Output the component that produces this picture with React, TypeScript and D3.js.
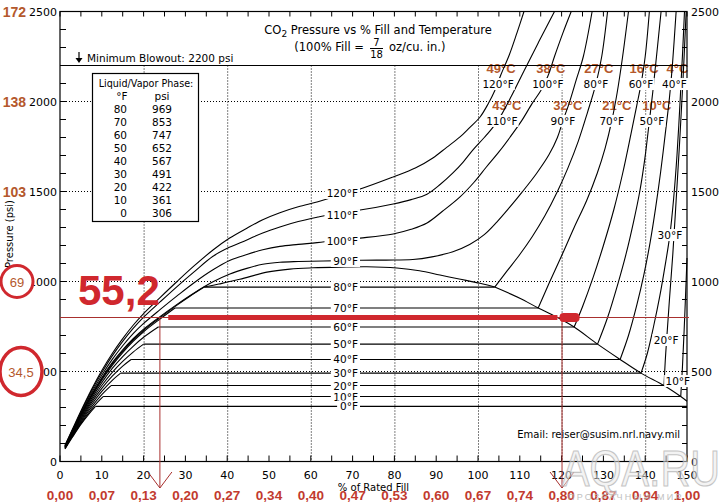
import * as d3 from 'd3'

type Pt = [number, number]

// axes
const fillTicks = d3.range(0, 151, 10)
const fillMinor = d3.range(0, 151, 5)
const psiTicks = [0, 500, 1000, 1500, 2000, 2500]
const psiMinor = d3.range(0, 2501, 100)
const gridFill = [20, 40, 60, 80, 100, 120, 140]
const gridPsi = [500, 1000, 1500, 2000]
const barLabels = ['', '34,5', '69', '103', '138', '172']
const densityLabels = ['0,00', '0,07', '0,13', '0,20', '0,27', '0,34', '0,40', '0,47', '0,53', '0,60', '0,67', '0,74', '0,80', '0,87', '0,94', '1,00']
const blowoutPsi = 2200

// liquid / vapor phase table
const tableTemps = [80, 70, 60, 50, 40, 30, 20, 10, 0]
const tablePsi = [969, 853, 747, 652, 567, 491, 422, 361, 306]
const satVaporFill = [34.5, 27.5, 23.5, 20, 17, 14.5, 12.2, 10.3, 8.5]
const satLiquidFill = [104, 114.4, 123, 128.6, 134, 139, 144.5, 148.5, 150]

// vapor side of each isotherm (% fill, psi)
const vapor80: Pt[] = [[1.2, 84], [3, 166], [5, 258], [7.5, 364], [10, 459], [12.5, 542], [15, 613], [17.5, 675], [20, 729], [24, 801], [28, 869], [31, 917], [34.5, 969]]
const vapor70: Pt[] = [[1.2, 82], [3, 164], [5, 253], [7.5, 358], [10, 452], [12.5, 534], [15, 605], [17.5, 667], [20, 721], [24, 793], [27.5, 853]]
const vapor60: Pt[] = [[1.2, 80], [3, 160], [5, 247], [7.5, 348], [10, 438], [12.5, 517], [15, 583], [17.5, 640], [20, 690], [23.5, 747]]
const vapor50: Pt[] = [[1.2, 79], [3, 156], [5, 240], [7.5, 337], [10, 422], [12.5, 495], [15, 556], [17.5, 608], [20, 652]]
const vapor40: Pt[] = [[1.2, 77], [3, 152], [5, 233], [7.5, 326], [10, 406], [12.5, 474], [15, 530], [17, 567]]
const vapor30: Pt[] = [[1.2, 75], [3, 148], [5, 226], [7.5, 314], [10, 389], [12.5, 451], [14.5, 491]]
const vapor20: Pt[] = [[1.2, 74], [3, 144], [5, 219], [7.5, 302], [10, 372], [12.2, 422]]
const vapor10: Pt[] = [[1.2, 72], [3, 140], [5, 212], [7.5, 290], [9, 330], [10.3, 361]]
const vapor0: Pt[] = [[1.2, 70], [3, 136], [5, 206], [7, 266], [8.5, 306]]

// compressed liquid side
const liquid80: Pt[] = [[104, 969], [107, 1060], [110, 1150], [113, 1250], [116, 1365], [119, 1500], [121.5, 1630], [124, 1780], [126.2, 1940], [128.2, 2097], [129.6, 2250], [131, 2500]]
const liquid70: Pt[] = [[114.4, 853], [117, 990], [120.3, 1158], [123, 1300], [126, 1450], [128.5, 1600], [130.4, 1740], [132, 1892], [133.3, 2050], [134.6, 2250], [136, 2500]]
const liquid60: Pt[] = [[123, 747], [125, 860], [127.5, 1020], [130, 1200], [132.5, 1400], [134.6, 1600], [136.6, 1820], [138, 1980], [139, 2097], [140, 2250], [141, 2500]]
const liquid50: Pt[] = [[128.6, 652], [131, 800], [133.5, 990], [135.5, 1160], [137.2, 1330], [138.7, 1500], [139.9, 1680], [141, 1892], [141.8, 2050], [142.7, 2250], [143.8, 2500]]
const liquid40: Pt[] = [[134, 567], [136, 700], [138, 870], [139.7, 1040], [141.2, 1220], [142.5, 1410], [143.7, 1610], [144.8, 1820], [145.8, 2020], [146.5, 2200], [147.4, 2500]]
const liquid30: Pt[] = [[139, 491], [140.5, 600], [142, 750], [143.5, 920], [144.7, 1080], [145.9, 1258], [146.8, 1460], [147.6, 1700], [148.3, 1980], [148.9, 2250], [149.4, 2500]]
const liquid20: Pt[] = [[144.5, 422], [144.8, 560], [145.2, 700], [145.8, 900], [146.6, 1150], [147.4, 1450], [148.2, 1760], [149, 2100], [149.8, 2500]]
const liquid10: Pt[] = [[148.5, 361], [148.9, 520], [149.3, 720], [149.7, 950], [150, 1130]]

// supercritical isotherms
const curve90: Pt[] = [[1.2, 85], [3, 169], [5, 262], [7.5, 369], [10, 465], [12.5, 549], [15, 620], [17.5, 682], [20, 735], [24, 806], [28, 873], [32, 935], [36.6, 998], [40.5, 1040], [44.7, 1073], [48.5, 1096], [52.6, 1107], [57, 1111], [63, 1114], [72, 1118], [78, 1119], [84.4, 1122], [89, 1137], [94, 1165], [98, 1205], [101.5, 1260], [104.5, 1330], [107.5, 1410], [110.5, 1495], [114, 1600], [117, 1705], [119, 1800], [120.3, 1892], [121.8, 1990], [123.5, 2120], [125.2, 2250], [127.3, 2500]]
const curve100: Pt[] = [[1.2, 87], [3, 173], [5, 268], [7.5, 379], [10, 479], [12.5, 567], [15, 643], [17.5, 710], [20, 767], [24, 845], [28, 920], [32, 992], [36.6, 1065], [40.7, 1118], [44.7, 1150], [48.5, 1176], [52.6, 1195], [57, 1206], [61.5, 1216], [66, 1228], [71.8, 1241], [79.7, 1264], [84, 1290], [87.8, 1325], [91.5, 1390], [95.7, 1470], [99, 1550], [102, 1636], [105, 1720], [107.7, 1803], [110.5, 1895], [113, 1991], [115, 2060], [116.7, 2140], [118.3, 2250], [120.3, 2380], [122.3, 2500]]
const curve110: Pt[] = [[1.2, 88], [3, 176], [5, 274], [7.5, 390], [10, 494], [12.5, 587], [15, 667], [17.5, 739], [20, 802], [24, 888], [28, 972], [32, 1052], [36.6, 1140], [40.5, 1190], [44.7, 1231], [48.5, 1270], [52.6, 1303], [57, 1333], [61.7, 1358], [66, 1378], [71.8, 1397], [79.7, 1431], [84, 1455], [87.8, 1485], [91, 1540], [94, 1603], [96.5, 1665], [98.8, 1731], [101.5, 1800], [103.6, 1858], [105.7, 1930], [108, 2030], [111, 2170], [114.5, 2330], [118.3, 2500]]
const curve120: Pt[] = [[1.2, 90], [3, 180], [5, 280], [7.5, 398], [10, 505], [12.5, 600], [15, 683], [17.5, 757], [20, 822], [24, 912], [28, 1000], [32, 1085], [36.6, 1175], [40.5, 1240], [44.7, 1296], [48.5, 1343], [52.6, 1382], [57, 1415], [61.7, 1443], [66, 1475], [71.8, 1514], [79.7, 1581], [85, 1630], [89.2, 1686], [92.5, 1745], [95.7, 1803], [98, 1855], [100.5, 1914], [102.5, 1990], [104, 2060], [105.5, 2150], [107.5, 2260], [109.3, 2380], [111, 2500]]

// saturation dome
const domeTop: Pt[] = [[34.5, 969], [38, 986], [43, 1012], [49.5, 1052], [55, 1069], [60.5, 1076], [67, 1080], [73.4, 1082], [80.6, 1075], [86, 1060], [90.9, 1036], [95.5, 1014], [100.5, 990], [104, 969]]
const domeRight: Pt[] = [[104, 969], [110, 907], [114.4, 853], [118.6, 805], [123, 747], [128.6, 652], [134, 567], [139, 491], [144.5, 422], [148.5, 361], [150, 335]]

// labels: supercritical temps on the plateau, then the steep liquid lines
const superTemps = [90, 100, 110, 120]
const superLabelPsi = [1114, 1225, 1369, 1492]
const steepTemps = [120, 110, 100, 90, 80, 70, 60, 50, 40, 30, 20, 10]
const steepCelsius = ['49', '43', '38', '32', '27', '21', '16', '10', '4', '', '', '']
const steepFill = [104.8, 105.7, 116.7, 120.3, 128.2, 132, 139, 141.6, 147, 145.9, 145, 147.8]
const steepPsi = [2097, 1892, 2097, 1892, 2097, 1892, 2097, 1892, 2097, 1258, 675, 447]

// red annotation
const redPsi = 800
const redFills = [23.9, 120.1]
const redBar = '55,2'

const vapors = [vapor80, vapor70, vapor60, vapor50, vapor40, vapor30, vapor20, vapor10, vapor0]
const liquids = [liquid80, liquid70, liquid60, liquid50, liquid40, liquid30, liquid20, liquid10]
const supers = [curve90, curve100, curve110, curve120]

const FONT = 'DejaVu Sans, Verdana, sans-serif'
const SANS = 'Liberation Sans, Arial, sans-serif'
const RED = '#d0282e'
const BROWN = '#b4582c'

const textW = (s: string, size: number) => s.length * size * 0.6

export default function App() {
  const x = d3.scaleLinear().domain([0, 150]).range([60, 687])
  const y = d3.scaleLinear().domain([0, 2500]).range([461.5, 11.5])
  const line = d3
    .line<Pt>()
    .x((d) => x(d[0]))
    .y((d) => y(d[1]))
    .curve(d3.curveCatmullRom.alpha(0.5))

  const x0 = x(0)
  const x1 = x(150)
  const yTop = y(2500)
  const yBot = y(0)

  return (
    <svg
      width={728}
      height={504}
      style={{ position: 'absolute', left: 0, top: 0, background: '#fff' }}
      fontFamily={FONT}
    >
      <rect width={728} height={504} fill="#fff" />

      {/* dotted grid */}
      <g stroke="#000" strokeWidth={1} strokeDasharray="1,2">
        {gridFill.map((f) => (
          <line key={'gv' + f} x1={x(f) + 0.5} x2={x(f) + 0.5} y1={y(blowoutPsi)} y2={yBot} />
        ))}
        {gridPsi.map((p) => (
          <line key={'gh' + p} x1={x0} x2={x1} y1={y(p)} y2={y(p)} />
        ))}
      </g>

      {/* Celsius overlays, under the curves */}
      <g fontFamily={SANS} fontWeight="bold" fontSize={13} fill={BROWN} textAnchor="middle">
        {steepTemps.map((t, i) =>
          steepCelsius[i] ? (
            <text key={'c' + t} x={x(steepFill[i]) + (i % 2 ? 5 : 3)} y={y(steepPsi[i]) - 11}>
              {steepCelsius[i]}°C
            </text>
          ) : null
        )}
      </g>

      {/* isotherms */}
      <g fill="none" stroke="#000" strokeWidth={1.1}>
        {vapors.map((v, i) => (
          <path key={'v' + i} d={line(v)!} />
        ))}
        {tablePsi.map((p, i) => (
          <line key={'h' + i} x1={x(satVaporFill[i])} x2={x(satLiquidFill[i])} y1={y(p)} y2={y(p)} />
        ))}
        {liquids.map((v, i) => (
          <path key={'l' + i} d={line(v)!} />
        ))}
        {supers.map((v, i) => (
          <path key={'s' + i} d={line(v)!} />
        ))}
        <path d={line(domeTop)!} />
        <path d={line(domeRight)!} />
      </g>

      {/* minimum blowout */}
      <line x1={x0} x2={x1} y1={y(blowoutPsi)} y2={y(blowoutPsi)} stroke="#000" strokeWidth={1.2} />
      <line x1={79} x2={79} y1={52} y2={60} stroke="#000" strokeWidth={1.2} />
      <path d="M75.5,58 L82.5,58 L79,63 Z" fill="#000" />
      <text x={87} y={62} fontSize={10.5}>
        Minimum Blowout: {blowoutPsi} psi
      </text>

      {/* frame and ticks */}
      <rect x={x0} y={yTop} width={x1 - x0} height={yBot - yTop} fill="none" stroke="#000" strokeWidth={1.2} />
      <g stroke="#000" strokeWidth={1}>
        {psiMinor.map((p) => (
          <g key={'pt' + p}>
            <line x1={x0} x2={x0 + 6} y1={y(p)} y2={y(p)} />
            <line x1={x1 - 5} x2={x1} y1={y(p)} y2={y(p)} />
          </g>
        ))}
        {fillMinor.map((f) => (
          <g key={'ft' + f}>
            <line x1={x(f)} x2={x(f)} y1={yBot} y2={yBot - 6} />
            <line x1={x(f)} x2={x(f)} y1={yTop} y2={yTop + 5} />
          </g>
        ))}
      </g>
      <g fontSize={11} fill="#000">
        {psiTicks.map((p) => (
          <text key={'pl' + p} x={x0 - 3} y={y(p) + 4} textAnchor="end">
            {p}
          </text>
        ))}
        {psiTicks.map((p) => (
          <text key={'pr' + p} x={x1 + 4} y={y(p) + 4} textAnchor="start">
            {p}
          </text>
        ))}
        {fillTicks.map((f) => (
          <text key={'fl' + f} x={x(f)} y={479} textAnchor="middle">
            {f}
          </text>
        ))}
      </g>
      <text x={x(75)} y={491} fontSize={10} textAnchor="middle">
        % of Rated Fill
      </text>
      <text
        transform="translate(13,234) rotate(-90)"
        fontSize={10}
        textAnchor="middle"
        textLength={68}
        lengthAdjust="spacingAndGlyphs"
      >
        Pressure (psi)
      </text>

      {/* labels along the flat two-phase lines */}
      <g fontSize={10.5} textAnchor="end">
        {tableTemps.map((t, i) => (
          <g key={'ml' + t}>
            <rect x={358 - textW(t + '°F', 10.5) - 2} y={y(tablePsi[i]) - 6} width={textW(t + '°F', 10.5) + 4} height={12} fill="#fff" />
            <text x={358} y={y(tablePsi[i]) + 4}>
              {t}°F
            </text>
          </g>
        ))}
        {superTemps.map((t, i) => (
          <g key={'sl' + t}>
            <rect x={358 - textW(t + '°F', 10.5) - 2} y={y(superLabelPsi[i]) - 6} width={textW(t + '°F', 10.5) + 4} height={12} fill="#fff" />
            <text x={358} y={y(superLabelPsi[i]) + 4}>
              {t}°F
            </text>
          </g>
        ))}
      </g>

      {/* labels on the steep liquid lines */}
      <g fontSize={10.5} textAnchor="middle">
        {steepTemps.map((t, i) => {
          const w = textW(t + '°F', 10.5)
          const cx = x(steepFill[i])
          const cy = y(steepPsi[i])
          return (
            <g key={'st' + t}>
              <rect x={cx - w / 2 - 1} y={cy - 6} width={w + 2} height={12} fill="#fff" />
              <text x={cx} y={cy + 4}>
                {t}°F
              </text>
            </g>
          )
        })}
      </g>

      {/* phase table */}
      <rect x={92.5} y={73.5} width={106} height={148} fill="#fff" stroke="#000" strokeWidth={1.2} />
      <text x={146} y={87} fontSize={9.6} textAnchor="middle">
        Liquid/Vapor Phase:
      </text>
      <text x={122} y={100} fontSize={10.5} textAnchor="middle">
        °F
      </text>
      <text x={162} y={100} fontSize={10.5} textAnchor="middle">
        psi
      </text>
      {tableTemps.map((t, i) => (
        <g key={'tr' + t} fontSize={10.5}>
          <text x={127} y={113 + i * 13} textAnchor="end">
            {t}
          </text>
          <text x={162} y={113 + i * 13} textAnchor="middle">
            {tablePsi[i]}
          </text>
        </g>
      ))}

      {/* title */}
      <text x={378} y={34} fontSize={11.5} textAnchor="middle">
        CO
        <tspan dy={3} fontSize={9}>
          2
        </tspan>
        <tspan dy={-3}> Pressure vs % Fill and Temperature</tspan>
      </text>
      <text x={364} y={51} fontSize={11.5} textAnchor="end">
        (100% Fill =
      </text>
      <text x={376.5} y={46} fontSize={10} textAnchor="middle">
        7
      </text>
      <line x1={370} x2={383} y1={48.5} y2={48.5} stroke="#000" strokeWidth={1} />
      <text x={376.5} y={57.5} fontSize={10} textAnchor="middle">
        18
      </text>
      <text x={389} y={51} fontSize={11.5}>
        oz/cu. in.)
      </text>

      <text x={680} y={438} fontSize={10} textAnchor="end">
        Email: reiser@susim.nrl.navy.mil
      </text>

      {/* red annotation */}
      <line x1={x0} x2={x1 + 2} y1={y(redPsi)} y2={y(redPsi)} stroke="#a8302e" strokeWidth={1} />
      {redFills.map((f) => (
        <g key={'rv' + f} stroke="#a8302e" strokeWidth={1} fill="none">
          <line x1={x(f)} x2={x(f)} y1={y(redPsi)} y2={488} />
          <path d={`M${x(f) - 12},472 L${x(f)},488 L${x(f) + 12},472`} />
        </g>
      ))}
      <line x1={x(25.9)} x2={x(119)} y1={y(redPsi)} y2={y(redPsi)} stroke={RED} strokeWidth={5} />
      <rect x={x(119.5)} y={y(redPsi) - 4.5} width={x(124.3) - x(119.5)} height={9} rx={4} fill={RED} />
      <text x={78} y={305} fontFamily={SANS} fontWeight="bold" fontSize={42} fill={RED}>
        {redBar}
      </text>

      <g fontFamily={SANS} fontWeight="bold">
        <ellipse cx={17} cy={y(1000)} rx={16} ry={16} fill="#fff" stroke={RED} strokeWidth={3} />
        <ellipse cx={21} cy={y(500)} rx={21} ry={24} fill="#fff" stroke={RED} strokeWidth={3.5} />
        {psiTicks.map((p, i) =>
          barLabels[i] ? (
            <text
              key={'bl' + p}
              x={p >= 1500 ? 26 : p === 1000 ? 17 : 21}
              y={y(p) + 5}
              fontSize={p >= 1500 ? 14 : 13}
              fontWeight={p >= 1500 ? 'bold' : 'normal'}
              textAnchor={p >= 1500 ? 'end' : 'middle'}
              fill={BROWN}
            >
              {barLabels[i]}
            </text>
          ) : null
        )}
        {fillTicks.map((f, i) => (
          <text key={'dl' + f} x={x(f)} y={500} fontSize={13.5} fill="#c23a2e" textAnchor="middle">
            {densityLabels[i]}
          </text>
        ))}
      </g>

      {/* watermark */}
      <g opacity={0.85}>
        <text
          x={562}
          y={486}
          fontFamily={SANS}
          fontSize={50}
          textLength={158}
          lengthAdjust="spacingAndGlyphs"
          fill="#eaeaea"
          fillOpacity={0.6}
          stroke="#bcbcbc"
          strokeWidth={1.2}
        >
          AQA.RU
        </text>
        <text x={568} y={500} fontFamily={SANS} fontSize={9} letterSpacing={2.2} fill="#b5b5b5">
          ПРОЗРАЧНЫЙ МИР
        </text>
      </g>
    </svg>
  )
}
